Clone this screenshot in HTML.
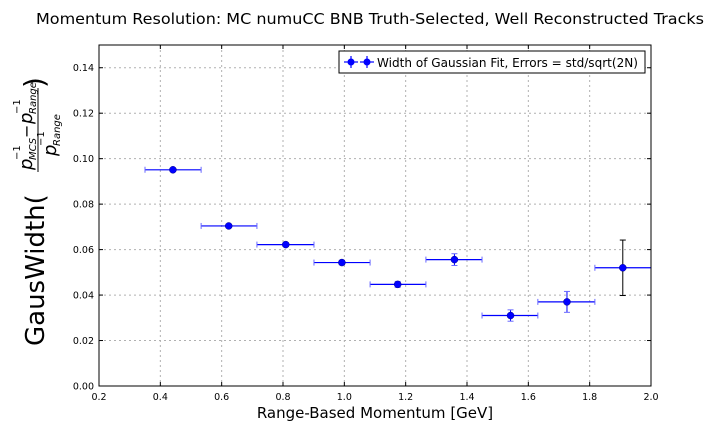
<!DOCTYPE html>
<html><head><meta charset="utf-8"><style>
body{margin:0;background:#fff;}
svg text{font-family:"DejaVu Sans","Liberation Sans",sans-serif;}
</style></head><body>
<svg id="chart" width="720" height="432" xmlns="http://www.w3.org/2000/svg">
<rect width="720" height="432" fill="#fff"/>
<text x="370" y="24" text-anchor="middle" font-size="15" textLength="668" lengthAdjust="spacingAndGlyphs">Momentum Resolution: MC numuCC BNB Truth-Selected, Well Reconstructed Tracks</text>
<g id="grid"></g>
<g id="ticks"></g>
<g id="marks"></g>
<rect x="99" y="45" width="552" height="341" fill="none" stroke="#000" stroke-width="1"/>
<text x="375" y="418" text-anchor="middle" font-size="15">Range-Based Momentum [GeV]</text>
<g transform="translate(44,216) rotate(-90)" font-family="Liberation Serif,serif">
  <text x="-130" y="0" font-size="26" font-family="DejaVu Sans,sans-serif">GausWidth(</text>
  <g font-style="italic">
    <text x="46" y="-12" font-size="18">p</text>
    <text x="56" y="-8" font-size="10">MCS</text>
    <text x="56" y="-24" font-size="10" font-style="normal">−1</text>
    <text x="78" y="-12" font-size="16" font-style="normal">−</text>
    <text x="92" y="-12" font-size="18">p</text>
    <text x="102" y="-8" font-size="10">Range</text>
    <text x="102" y="-24" font-size="10" font-style="normal">−1</text>
    <text x="60" y="12" font-size="18">p</text>
    <text x="70" y="16" font-size="10">Range</text>
    <text x="70" y="0" font-size="10" font-style="normal">−1</text>
  </g>
  <line x1="44" y1="-6" x2="128" y2="-6" stroke="#000" stroke-width="1"/>
  <text x="128" y="0" font-size="28" font-family="DejaVu Sans,sans-serif">)</text>
</g>
<g>
  <rect x="339" y="51" width="306" height="22" fill="#fff" stroke="#000"/>
  <g stroke="#0000ff" stroke-width="1.2">
    <line x1="344" y1="62" x2="358" y2="62"/><line x1="351" y1="56" x2="351" y2="68"/>
    <line x1="360" y1="62" x2="374" y2="62"/><line x1="367" y1="56" x2="367" y2="68"/>
  </g>
  <circle cx="351" cy="62" r="3.5" fill="#0000ff"/><circle cx="367" cy="62" r="3.5" fill="#0000ff"/>
  <text x="377" y="67" font-size="12.5" textLength="261" lengthAdjust="spacingAndGlyphs">Width of Gaussian Fit, Errors = std/sqrt(2N)</text>
</g>
</svg>
<script>
const xCenters=[0.441,0.623,0.809,0.992,1.174,1.359,1.542,1.726,1.908];
const yValues=[0.0951,0.0704,0.0622,0.0543,0.0447,0.0556,0.0310,0.0370,0.0520];
const yErrors=[0.0008,0.0008,0.0008,0.0010,0.0013,0.0026,0.0025,0.0046,0.0122];
const binLow=[0.350,0.533,0.715,0.901,1.084,1.266,1.449,1.631,1.817];
const binHigh=[0.533,0.715,0.901,1.084,1.266,1.449,1.631,1.817,2.000];
const xTicks=[0.2,0.4,0.6,0.8,1.0,1.2,1.4,1.6,1.8,2.0];
const xTickLabels=["0.2","0.4","0.6","0.8","1.0","1.2","1.4","1.6","1.8","2.0"];
const yTicks=[0,0.02,0.04,0.06,0.08,0.10,0.12,0.14];
const yTickLabels=["0.00","0.02","0.04","0.06","0.08","0.10","0.12","0.14"];
const L=99,R=651,T=45,B=386,xmin=0.2,xmax=2.0,ymin=0,ymax=0.15;
const sx=v=>L+(v-xmin)/(xmax-xmin)*(R-L);
const sy=v=>B-(v-ymin)/(ymax-ymin)*(B-T);
const NS="http://www.w3.org/2000/svg";
function mk(tag,attrs,parent){const e=document.createElementNS(NS,tag);for(const k in attrs)e.setAttribute(k,attrs[k]);parent.appendChild(e);return e;}
const grid=document.getElementById('grid'),ticks=document.getElementById('ticks'),marks=document.getElementById('marks');
xTicks.forEach((t,i)=>{
  const x=sx(t);
  if(i>0&&i<xTicks.length-1){const g=mk('line',{x1:x,x2:x,y1:T,y2:B,stroke:'#b0b0b0','stroke-dasharray':'2,3'},grid);
  
  }
  mk('line',{x1:x,x2:x,y1:B,y2:B-4,stroke:'#000'},ticks);
  mk('line',{x1:x,x2:x,y1:T,y2:T+4,stroke:'#000'},ticks);
  const tx=mk('text',{x:x,y:B+14,'text-anchor':'middle','font-size':'9.5'},ticks);
  tx.textContent=xTickLabels[i];
  
  
});
yTicks.forEach((t,i)=>{
  const y=sy(t);
  if(i>0){const g=mk('line',{x1:L,x2:R,y1:y,y2:y,stroke:'#b0b0b0','stroke-dasharray':'2,3'},grid);
  
  }
  mk('line',{x1:L,x2:L+4,y1:y,y2:y,stroke:'#000'},ticks);
  mk('line',{x1:R,x2:R-4,y1:y,y2:y,stroke:'#000'},ticks);
  const tx=mk('text',{x:L-5,y:y+3.5,'text-anchor':'end','font-size':'9.5'},ticks);
  tx.textContent=yTickLabels[i];
  
  
});
xCenters.forEach((xc,i)=>{
  const g=mk('g',{},marks);
  
  
  const x=sx(xc),y=sy(yValues[i]),x0=sx(binLow[i]),x1=Math.min(sx(binHigh[i]),R),
        ya=sy(yValues[i]+yErrors[i]),yb=sy(yValues[i]-yErrors[i]);
  const vc=yErrors[i]>0.005?'#000':'#0000ff';
  mk('line',{x1:x0,x2:x1,y1:y,y2:y,stroke:'#0000ff','stroke-width':1.2},g);
  mk('line',{x1:x0,x2:x0,y1:y-3,y2:y+3,stroke:'#6a6aff'},g);
  if(sx(binHigh[i])<R-1)mk('line',{x1:x1,x2:x1,y1:y-3,y2:y+3,stroke:'#6a6aff'},g);
  mk('line',{x1:x,x2:x,y1:ya,y2:yb,stroke:vc,'stroke-width':1},g);
  mk('line',{x1:x-3,x2:x+3,y1:ya,y2:ya,stroke:vc==='#000'?'#000':'#6a6aff'},g);
  mk('line',{x1:x-3,x2:x+3,y1:yb,y2:yb,stroke:vc==='#000'?'#000':'#6a6aff'},g);
  mk('circle',{cx:x,cy:y,r:3.5,fill:'#0000ff',stroke:'#00008b','stroke-width':0.5},g);
});
</script>
</body></html>
